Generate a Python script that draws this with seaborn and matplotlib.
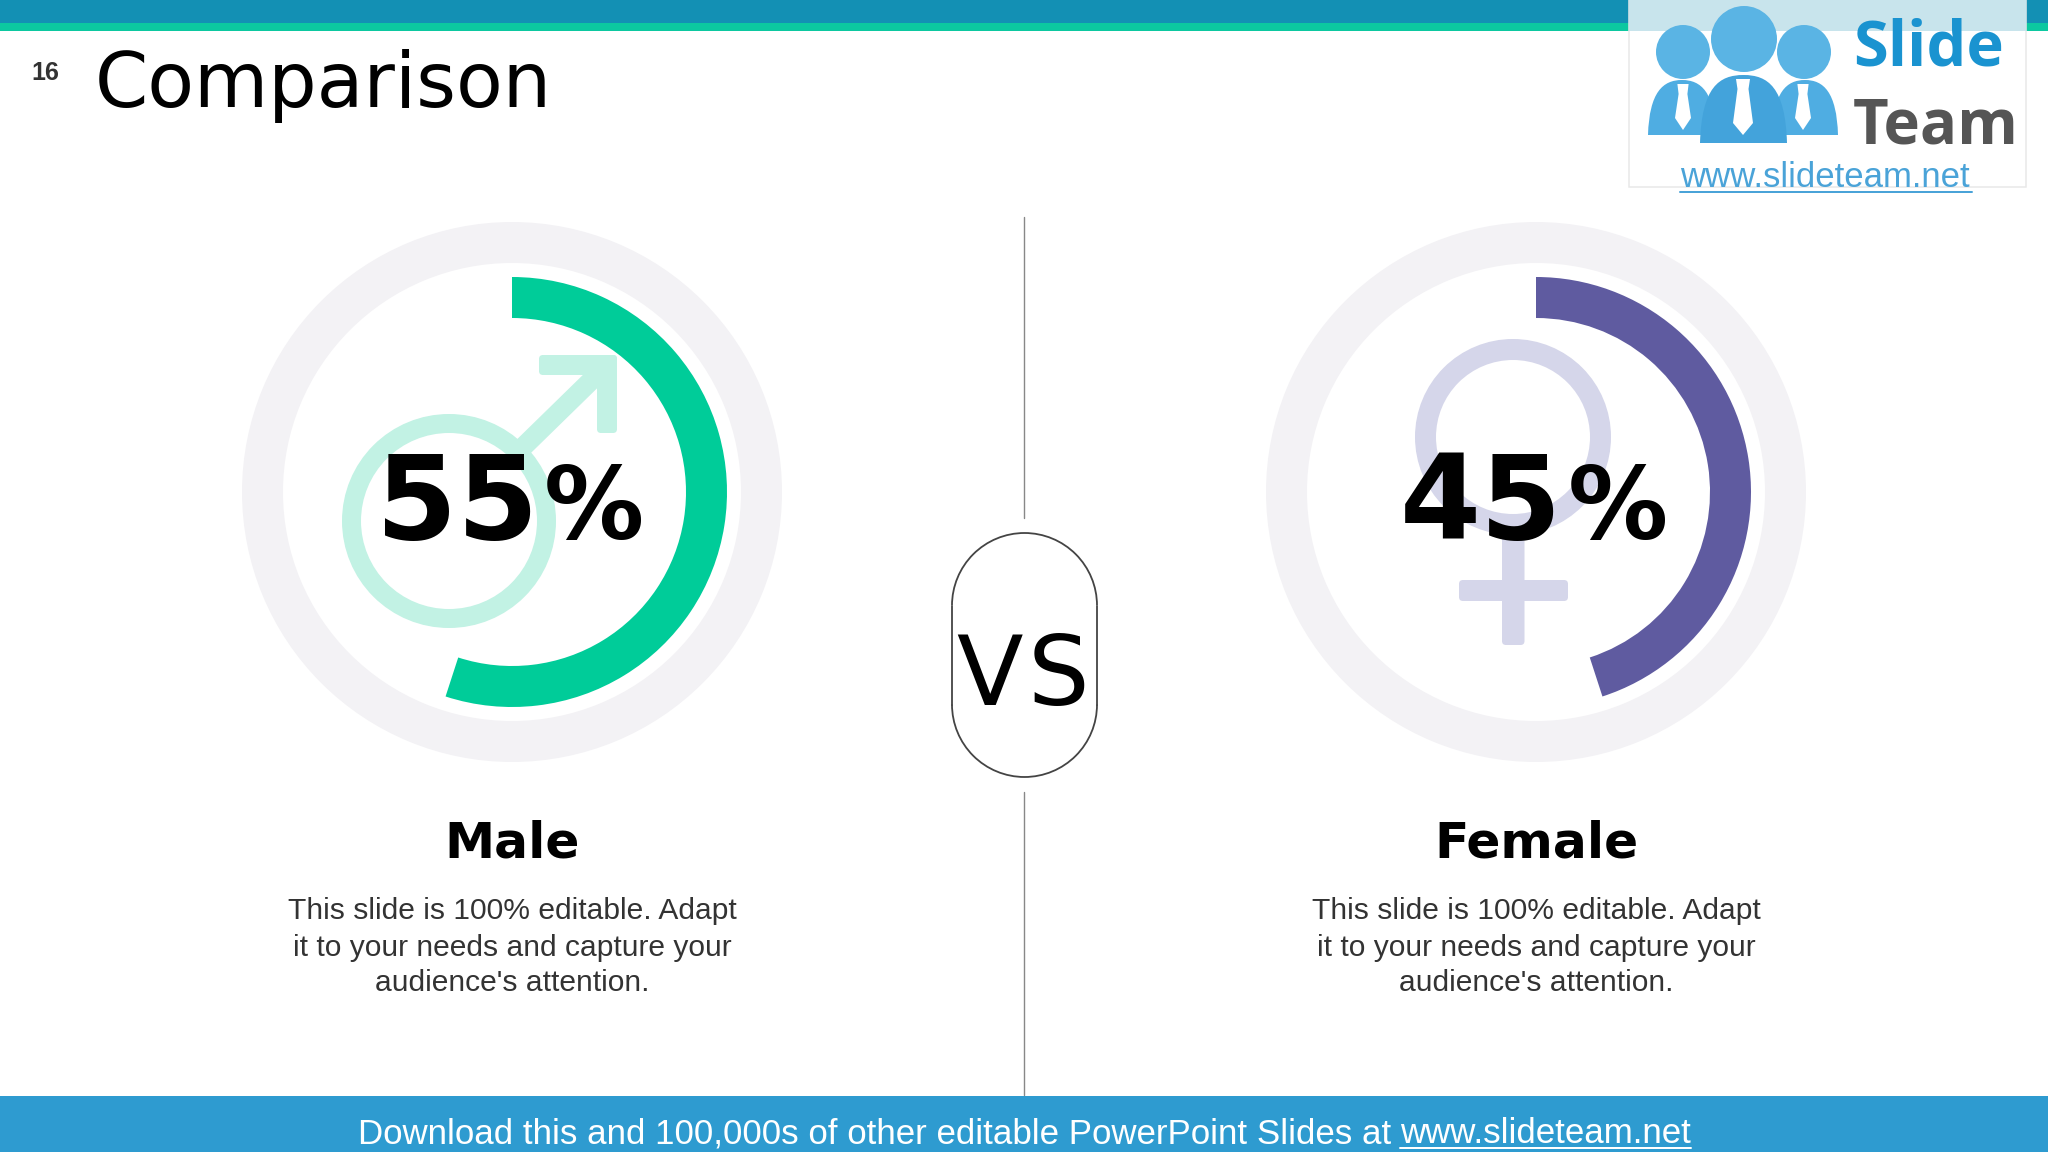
import matplotlib
matplotlib.use("Agg")
import matplotlib.pyplot as plt
import seaborn as sns
from matplotlib.patches import Arc, Circle, FancyBboxPatch, PathPatch, Polygon, Rectangle
from matplotlib.path import Path

# slide data
groups = ["Male", "Female"]
shares = [55, 45]
arc_colors = ["#00CC99", "#5F5BA0"]
body_lines = ["This slide is 100% editable. Adapt",
              "it to your needs and capture your",
              "audience's attention."]

W, H = 2048, 1152
sns.set_theme(style="white")
fig = plt.figure(figsize=(W / 100, H / 100), dpi=100, facecolor="white")
ax = fig.add_axes([0, 0, 1, 1])
PX = 0.72  # one pixel in points


def bar(x, y, w, h, color, rounding=4, z=2):
    ax.add_patch(FancyBboxPatch((x, y), w, h, boxstyle=f"round,pad=0,rounding_size={rounding}",
                                fc=color, ec="none", zorder=z))


# top and bottom bands
ax.add_patch(Rectangle((0, 0), W, 23, fc="#1390B4", ec="none"))
ax.add_patch(Rectangle((0, 23), W, 8, fc="#0CC8A0", ec="none"))
ax.add_patch(Rectangle((0, 1096), W, 56, fc="#2E9BD0", ec="none"))

ax.text(31, 80, "16", fontsize=18, fontweight="bold", family="Liberation Sans", color="#333333", va="baseline")
ax.text(95, 107, "Comparison", fontsize=55, family="DejaVu Sans", color="black", va="baseline")

# donuts
centers = [512, 1536]
for cx, share, color in zip(centers, shares, arc_colors):
    ax.pie([100], colors=["#F3F2F5"], center=(cx, 492), radius=270, frame=True,
           wedgeprops=dict(width=41, linewidth=0))
    ax.pie([share, 100 - share], colors=[color, "none"], center=(cx, 492), radius=215,
           startangle=-90, counterclock=True, frame=True, wedgeprops=dict(width=41, linewidth=0))

# male symbol
male_c = "#C2F2E4"
ax.add_patch(Circle((449, 521), 97.5, fc="none", ec=male_c, lw=19 * PX, zorder=2))
ax.plot([520, 607], [450, 365], color=male_c, lw=19.5 * PX, solid_capstyle="butt", zorder=2)
bar(539, 355, 78, 20, male_c)
bar(597, 355, 20, 78, male_c)

# female symbol
female_c = "#D5D6EA"
ax.add_patch(Circle((1513, 437), 87.5, fc="none", ec=female_c, lw=21 * PX, zorder=2))
bar(1502, 522, 22.5, 123, female_c)
bar(1459, 580, 109, 21, female_c)

# percentages and captions
for cx, share, name in zip(centers, shares, groups):
    ax.text(cx - 136, 539, str(share), fontsize=84, fontweight="bold", family="DejaVu Sans",
            color="black", va="baseline", zorder=5)
    ax.text(cx + 32, 539, "%", fontsize=72, fontweight="bold", family="DejaVu Sans",
            color="black", va="baseline", zorder=5)
    ax.text(cx, 858, name, fontsize=36.3, fontweight="bold", family="DejaVu Sans",
            color="black", ha="center", va="baseline")
    for y, line in zip([919, 956, 991], body_lines):
        ax.text(cx, y, line, fontsize=21.6, family="Liberation Sans", color="#333333",
                ha="center", va="baseline")

# divider and VS pill
ax.plot([1024, 1024], [217, 518], color="#888888", lw=1.4 * PX)
ax.plot([1024, 1024], [792, 1095], color="#888888", lw=1.4 * PX)
pill_c = "#444444"
ax.add_patch(Arc((1024.5, 605.5), 145, 145, theta1=180, theta2=360, ec=pill_c, lw=1.8 * PX, zorder=3))
ax.add_patch(Arc((1024.5, 704.5), 145, 145, theta1=0, theta2=180, ec=pill_c, lw=1.8 * PX, zorder=3))
ax.plot([952, 952], [605.5, 704.5], color=pill_c, lw=1.8 * PX, zorder=3)
ax.plot([1097, 1097], [605.5, 704.5], color=pill_c, lw=1.8 * PX, zorder=3)
# V and S sit a bit further apart than the font spacing
ax.text(956, 705, "V", fontsize=70, family="DejaVu Sans", color="black", va="baseline", zorder=4)
ax.text(1028, 705, "S", fontsize=70, family="DejaVu Sans", color="black", va="baseline", zorder=4)

# footer text
ax.text(358, 1143, "Download this and 100,000s of other editable PowerPoint Slides at", fontsize=25.1,
        family="Liberation Sans", color="white", va="baseline")
ax.text(1400, 1143, "www.slideteam.net", fontsize=25.1, family="Liberation Sans", color="white", va="baseline")
ax.plot([1400, 1691], [1148, 1148], color="white", lw=2 * PX)

# logo
ax.add_patch(Rectangle((1629, 0), 397, 187, fc="white", ec="#E8E8E8", lw=1.5 * PX, zorder=6))
ax.add_patch(Rectangle((1629, 0), 397, 31, fc="#C8E4EC", ec="none", zorder=6))


def bust(x0, x1, top, bottom, color, z):
    mid = (x0 + x1) / 2
    w = x1 - x0
    verts = [(x0, bottom), (x0 + 0.02 * w, top + 12), (x0 + 0.22 * w, top), (mid, top),
             (x1 - 0.22 * w, top), (x1 - 0.02 * w, top + 12), (x1, bottom), (x0, bottom)]
    codes = [Path.MOVETO, Path.CURVE4, Path.CURVE4, Path.CURVE4, Path.CURVE4, Path.CURVE4, Path.CURVE4, Path.CLOSEPOLY]
    ax.add_patch(PathPatch(Path(verts, codes), fc=color, ec="none", zorder=z))


def tie(cx, top, bottom, half):
    ax.add_patch(Polygon([(cx - half * 0.7, top), (cx + half * 0.7, top), (cx + half * 0.55, top + 10),
                          (cx + half, bottom - 12), (cx, bottom), (cx - half, bottom - 12),
                          (cx - half * 0.55, top + 10)], fc="white", ec="none", zorder=9))


bust(1648, 1716, 80, 135, "#4FADE2", 7)
bust(1772, 1838, 80, 135, "#4FADE2", 7)
bust(1700, 1787, 75, 143, "#43A3DB", 8)
for cx, cy, r in [(1683, 52, 27), (1804, 52, 27), (1744, 39, 33)]:
    ax.add_patch(Circle((cx, cy), r, fc="#5AB4E4", ec="none", zorder=8))
tie(1683, 84, 130, 8)
tie(1803, 84, 130, 8)
tie(1743, 79, 135, 10)
ax.text(1853, 65, "Slide", fontsize=45.5, fontweight="bold", family="Open Sans", color="#1A93D0", va="baseline", zorder=9)
ax.text(1853, 143, "Team", fontsize=44.5, fontweight="bold", family="Open Sans", color="#555555", va="baseline", zorder=9)
ax.text(1680, 187, "www.slideteam.net", fontsize=25, family="Liberation Sans", color="#4AA3D8", va="baseline", zorder=9)
ax.plot([1680, 1972], [192, 192], color="#4AA3D8", lw=2 * PX, zorder=9)

ax.set_xlim(0, W)
ax.set_ylim(H, 0)
ax.axis("off")
fig.savefig("out.png", dpi=100)
